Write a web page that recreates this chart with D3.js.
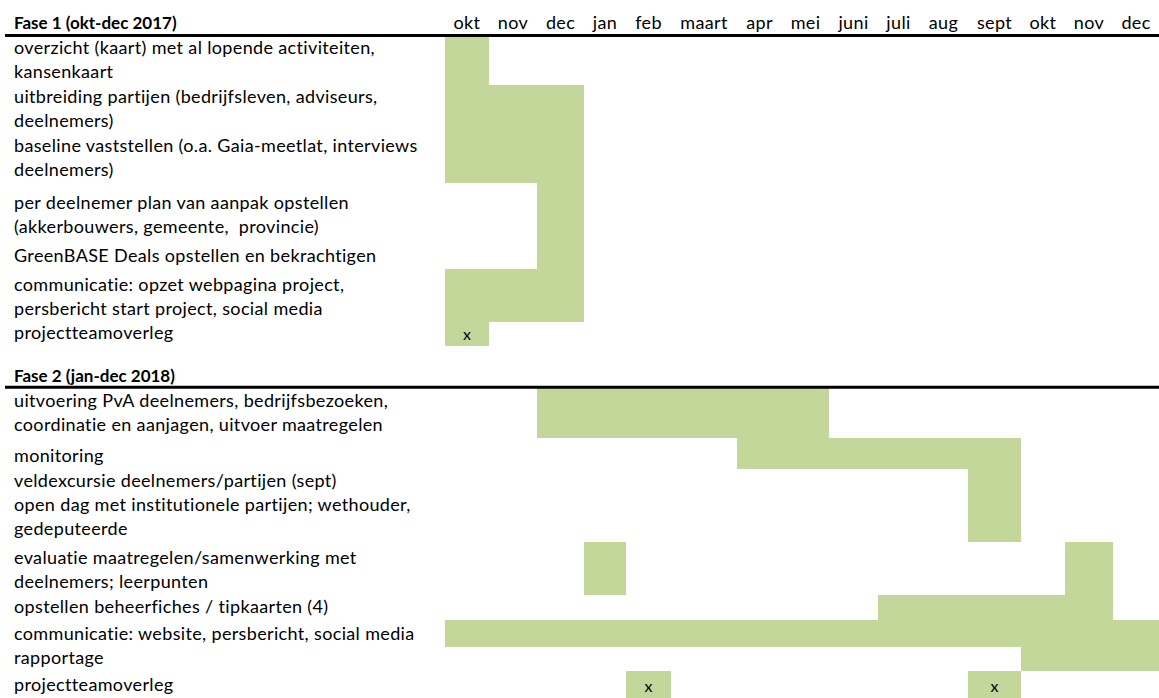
<!DOCTYPE html>
<html>
<head>
<meta charset="utf-8">
<script src="https://cdn.jsdelivr.net/npm/d3@7/dist/d3.min.js"></script>
<style>
  html, body { margin: 0; padding: 0; background: #fff; }
  svg { display: block; }
  text { font-family: Lato, "Open Sans", sans-serif; fill: #000; }
</style>
</head>
<body>
<svg id="chart" width="1159" height="698"></svg>
<script>
// ---------- data ----------
const months = ["okt","nov","dec","jan","feb","maart","apr","mei","juni","juli","aug","sept","okt","nov","dec"];
const phaseTitles = ["Fase 1 (okt-dec 2017)", "Fase 2 (jan-dec 2018)"];

const phase1Tasks = [
  ["overzicht (kaart) met al lopende activiteiten,", "kansenkaart"],
  ["uitbreiding partijen (bedrijfsleven, adviseurs,", "deelnemers)"],
  ["baseline vaststellen (o.a. Gaia-meetlat, interviews", "deelnemers)"],
  ["per deelnemer plan van aanpak opstellen", "(akkerbouwers, gemeente,  provincie)"],
  ["GreenBASE Deals opstellen en bekrachtigen"],
  ["communicatie: opzet webpagina project,", "persbericht start project, social media"],
  ["projectteamoverleg"]
];
const phase2Tasks = [
  ["uitvoering PvA deelnemers, bedrijfsbezoeken,", "coordinatie en aanjagen, uitvoer maatregelen"],
  ["monitoring"],
  ["veldexcursie deelnemers/partijen (sept)"],
  ["open dag met institutionele partijen; wethouder,", "gedeputeerde"],
  ["evaluatie maatregelen/samenwerking met", "deelnemers; leerpunten"],
  ["opstellen beheerfiches / tipkaarten (4)"],
  ["communicatie: website, persbericht, social media"],
  ["rapportage"],
  ["projectteamoverleg"]
];

// active periods: [phase, task, firstMonthIndex, lastMonthIndex]
const phase1Bars = [
  [0, 0, 0, 0],
  [0, 1, 0, 2],
  [0, 2, 0, 2],
  [0, 3, 2, 2],
  [0, 4, 2, 2],
  [0, 5, 0, 2],
  [0, 6, 0, 0]
];
const phase2Bars = [
  [1, 0, 2, 7],
  [1, 1, 6, 11],
  [1, 2, 11, 11],
  [1, 3, 11, 11],
  [1, 4, 3, 3],
  [1, 4, 13, 13],
  [1, 5, 9, 13],
  [1, 6, 0, 14],
  [1, 7, 12, 14],
  [1, 8, 4, 4],
  [1, 8, 11, 11]
];
// meetings marked with "x": [phase, task, monthIndex]
const meetingMarks = [
  [0, 6, 0],
  [1, 8, 4],
  [1, 8, 11]
];

// ---------- layout ----------
const colEdges = [445,489,537,584,626,671,737,782,829,878,919,968,1021,1065,1113,1159];
const phaseRowEdges = [
  [37,85,134,183,244,269,322,346],
  [388,438,469,494,542,595,620,647,671,698]
];
const labelBottomPad = [
  [7,7,7,11,7,7,7],
  [7,7,7,7,7,7,7,7,7]
];
const headerLineY = [35.5, 387.2];
const titleBaseline = [29, 382];
const fill = "#C4D79B";
const fontSize = 18;
const letterSpacing = 0.35;
const lineStep = 24.5;
const labelX = 14;

const svg = d3.select("#chart");

const x = d3.scaleLinear().domain(d3.range(colEdges.length)).range(colEdges);
const ys = phaseRowEdges.map(e => d3.scaleLinear().domain(d3.range(e.length)).range(e));

const tasks = [phase1Tasks, phase2Tasks];
const bars = phase1Bars.concat(phase2Bars);

// bars
svg.append("g").selectAll("rect").data(bars).join("rect")
  .attr("x", d => x(d[2]))
  .attr("width", d => x(d[3] + 1) - x(d[2]))
  .attr("y", d => ys[d[0]](d[1]))
  .attr("height", d => ys[d[0]](d[1] + 1) - ys[d[0]](d[1]))
  .attr("fill", fill)
  .attr("shape-rendering", "crispEdges");

// month header (centered in columns)
svg.append("g").selectAll("text").data(months).join("text")
  .attr("x", (d, i) => (x(i) + x(i + 1)) / 2)
  .attr("y", titleBaseline[0])
  .attr("text-anchor", "middle")
  .attr("font-size", fontSize)
  .attr("letter-spacing", letterSpacing)
  .text(d => d);

// phase titles and lines
phaseTitles.forEach((t, p) => {
  svg.append("text")
    .attr("x", labelX)
    .attr("y", titleBaseline[p])
    .attr("font-size", 17)
    .attr("font-weight", "bold")
    .text(t);
  svg.append("line")
    .attr("x1", 5).attr("x2", 1159)
    .attr("y1", headerLineY[p]).attr("y2", headerLineY[p])
    .attr("stroke", "#000").attr("stroke-width", 3);
});

// task labels (bottom-aligned within rows)
tasks.forEach((list, p) => {
  const g = svg.append("g");
  list.forEach((lines, ti) => {
    const bottom = ys[p](ti + 1);
    const n = lines.length;
    lines.forEach((ln, li) => {
      g.append("text")
        .attr("x", labelX)
        .attr("y", bottom - labelBottomPad[p][ti] - (n - 1 - li) * lineStep)
        .attr("font-size", fontSize)
        .attr("letter-spacing", letterSpacing)
        .attr("xml:space", "preserve")
        .style("white-space", "pre")
        .text(ln);
    });
  });
});

// meeting marks
svg.append("g").selectAll("text").data(meetingMarks).join("text")
  .attr("x", d => (x(d[2]) + x(d[2] + 1)) / 2)
  .attr("y", d => ys[d[0]](d[1] + 1) - 6)
  .attr("text-anchor", "middle")
  .attr("font-size", fontSize - 2)
  .text("x");
</script>
</body>
</html>
